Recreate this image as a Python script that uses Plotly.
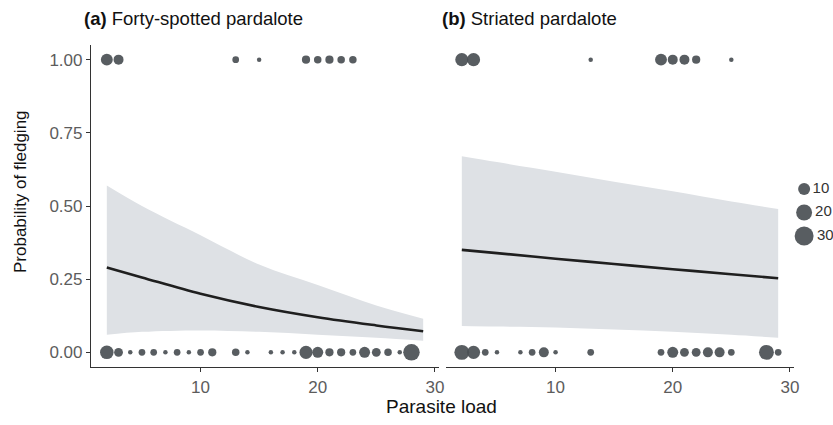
import numpy as np
import plotly.graph_objects as go

# ---- data ----
# Panel (a) Forty-spotted pardalote
a_top_x = [2, 3, 13, 15, 19, 20, 21, 22, 23]
a_top_n = [12, 8, 3, 1, 5, 4, 5, 4, 4]
a_bot_x = [2, 3, 4, 5, 6, 7, 8, 9, 10, 11, 13, 14, 16, 17, 18, 19, 20, 21, 22, 23, 24, 25, 26, 27, 28]
a_bot_n = [16, 6, 1, 3, 3, 1, 3, 1, 3, 5, 4, 1, 1, 1, 1, 15, 10, 5, 5, 3, 10, 6, 4, 1, 25]

# Panel (b) Striated pardalote
b_top_x = [2, 3, 13, 19, 20, 21, 22, 25]
b_top_n = [15, 15, 1, 12, 8, 8, 5, 1]
b_bot_x = [2, 3, 4, 5, 7, 8, 9, 10, 13, 19, 20, 21, 22, 23, 24, 25, 28, 29]
b_bot_n = [20, 15, 3, 1, 1, 3, 8, 1, 3, 3, 10, 6, 6, 8, 8, 3, 20, 3]

# fitted curves
fit_x = [2, 5, 10, 15, 20, 25, 29]
a_fit = [0.29, 0.256, 0.20, 0.155, 0.12, 0.092, 0.072]
a_upper = [0.57, 0.50, 0.40, 0.30, 0.23, 0.16, 0.115]
a_lower = [0.06, 0.07, 0.075, 0.07, 0.06, 0.05, 0.04]
b_fit = [0.35, 0.339, 0.320, 0.302, 0.284, 0.267, 0.253]
b_upper = [0.67, 0.65, 0.617, 0.583, 0.55, 0.515, 0.49]
b_lower = [0.09, 0.088, 0.085, 0.078, 0.07, 0.06, 0.05]

legend_n = [10, 20, 30]
legend_labels = ["10", "20", "30"]
y_ticks = [0, 0.25, 0.5, 0.75, 1.0]
y_ticktext = ["0.00", "0.25", "0.50", "0.75", "1.00"]
x_ticks = [10, 20, 30]

# ---- styling ----
W, H = 833, 425
FONT = "Liberation Sans, Arial, sans-serif"
PT_COLOR = "#4a4f54"
RIB_COLOR = "rgba(222,225,229,1)"
TICK_COLOR = "#5c5c5c"


def size_of(n):
    return [1.5 + 3.0 * np.sqrt(v) for v in n]


def py(pix):
    """pixel row (from top) -> paper fraction (margins are zero)"""
    return 1 - pix / H


fig = go.Figure()

panels = [
    ("x", "y", a_top_x, a_top_n, a_bot_x, a_bot_n, a_fit, a_upper, a_lower),
    ("x2", "y2", b_top_x, b_top_n, b_bot_x, b_bot_n, b_fit, b_upper, b_lower),
]

for xa, ya, tx, tn, bx, bn, fit, up, lo in panels:
    fig.add_trace(go.Scatter(x=fit_x, y=up, xaxis=xa, yaxis=ya, mode="lines",
                             line=dict(width=0, shape="spline"), showlegend=False,
                             hoverinfo="skip"))
    fig.add_trace(go.Scatter(x=fit_x, y=lo, xaxis=xa, yaxis=ya, mode="lines",
                             line=dict(width=0, shape="spline"), fill="tonexty",
                             fillcolor=RIB_COLOR, showlegend=False, hoverinfo="skip"))
    fig.add_trace(go.Scatter(x=fit_x, y=fit, xaxis=xa, yaxis=ya, mode="lines",
                             line=dict(color="#1f1f1f", width=2.6, shape="spline"),
                             showlegend=False))
    fig.add_trace(go.Scatter(x=tx, y=[1] * len(tx), xaxis=xa, yaxis=ya, mode="markers",
                             marker=dict(size=size_of(tn), color=PT_COLOR, opacity=0.92,
                                         line=dict(width=0)),
                             showlegend=False, cliponaxis=False))
    fig.add_trace(go.Scatter(x=bx, y=[0] * len(bx), xaxis=xa, yaxis=ya, mode="markers",
                             marker=dict(size=size_of(bn), color=PT_COLOR, opacity=0.92,
                                         line=dict(width=0)),
                             showlegend=False, cliponaxis=False))

# size legend drawn in its own small hidden axis
fig.add_trace(go.Scatter(x=[0] * len(legend_n), y=list(range(len(legend_n))),
                         xaxis="x3", yaxis="y3", mode="markers+text",
                         marker=dict(size=[1.5 + 3.0 * np.sqrt(n) + 1 for n in legend_n],
                                     color=PT_COLOR, opacity=0.92, line=dict(width=0)),
                         text=legend_labels, textposition="middle right",
                         textfont=dict(family=FONT, size=15, color="#333"),
                         showlegend=False, cliponaxis=False))

xr = [0.65, 30.35]
yr = [-0.05, 1.05]
ydom = [py(367), py(45)]
axis_common = dict(showgrid=False, zeroline=False, ticks="outside", ticklen=4,
                   tickcolor="#333", tickwidth=1,
                   tickfont=dict(family=FONT, size=17, color=TICK_COLOR),
                   showline=True, linecolor="#333", linewidth=1.2)
hidden = dict(visible=False, showgrid=False, zeroline=False)

fig.update_layout(
    width=W, height=H,
    margin=dict(l=0, r=0, t=0, b=0, autoexpand=False),
    paper_bgcolor="white", plot_bgcolor="white",
    font=dict(family=FONT, color="#222"),
    xaxis=dict(domain=[91 / W, 439 / W], range=xr, tickvals=x_ticks, anchor="y", **axis_common),
    xaxis2=dict(domain=[446 / W, 794 / W], range=xr, tickvals=x_ticks, anchor="y2", **axis_common),
    yaxis=dict(domain=ydom, range=yr, tickvals=y_ticks, ticktext=y_ticktext, anchor="x",
               **axis_common),
    yaxis2=dict(domain=ydom, range=yr, tickvals=y_ticks, anchor="x2", showticklabels=False,
                showgrid=False, zeroline=False, showline=False, ticks=""),
    xaxis3=dict(domain=[795 / W, 1.0], range=[-0.24, 0.76], anchor="y3", **hidden),
    yaxis3=dict(domain=[py(260), py(165)], range=[3.02, -1.02], anchor="x3", **hidden),
    showlegend=False,
)

fig.add_annotation(text="<b>(a)</b> Forty-spotted pardalote", xref="paper", yref="paper",
                   x=82 / W, y=py(19), xanchor="left", yanchor="middle", showarrow=False,
                   font=dict(family=FONT, size=18.5, color="#111"))
fig.add_annotation(text="<b>(b)</b> Striated pardalote", xref="paper", yref="paper",
                   x=440 / W, y=py(19), xanchor="left", yanchor="middle", showarrow=False,
                   font=dict(family=FONT, size=18.5, color="#111"))
fig.add_annotation(text="Probability of fledging", xref="paper", yref="paper",
                   x=20 / W, y=py(192), xanchor="center", yanchor="middle", showarrow=False,
                   textangle=-90, font=dict(family=FONT, size=17, color="#111"))
fig.add_annotation(text="Parasite load", xref="paper", yref="paper",
                   x=441 / W, y=py(406), xanchor="center", yanchor="middle", showarrow=False,
                   font=dict(family=FONT, size=19, color="#111"))

fig.write_html("out.html", config={"displayModeBar": False},
               post_script="document.body.style.margin='0px';document.body.style.padding='0px';")
